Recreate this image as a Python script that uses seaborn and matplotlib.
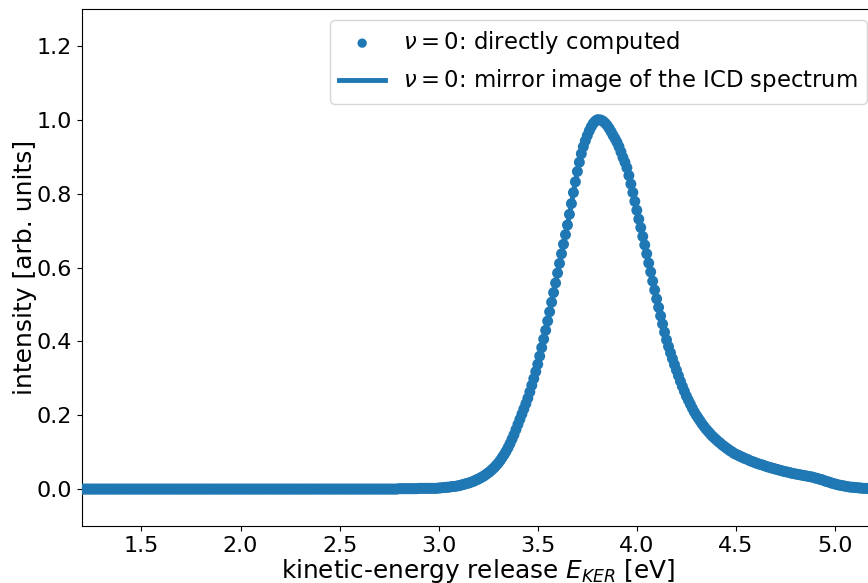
import numpy as np
import pandas as pd
import matplotlib
matplotlib.use("Agg")
import matplotlib.pyplot as plt
import seaborn as sns

# Kinetic-energy grid (eV), 0.01 eV spacing
energy = np.round(np.arange(1.20, 5.205, 0.01), 2)

# Intensity below the onset (1.20 - 2.99 eV)
intensity_low = [0.0] * 160 + [0.001] * 10 + [0.002] * 10

# Intensity across the peak (3.00 - 5.20 eV)
intensity_peak = [
    0.003, 0.003, 0.004, 0.004, 0.005, 0.005, 0.006, 0.007, 0.007, 0.008,
    0.009, 0.010, 0.012, 0.013, 0.015, 0.016, 0.018, 0.020, 0.022, 0.025,
    0.027, 0.030, 0.033, 0.036, 0.040, 0.044, 0.048, 0.053, 0.058, 0.064,
    0.070, 0.077, 0.085, 0.093, 0.102, 0.112, 0.123, 0.135, 0.147, 0.161,
    0.175, 0.189, 0.203, 0.217, 0.231, 0.246, 0.263, 0.281, 0.299, 0.318,
    0.338, 0.360, 0.383, 0.406, 0.430, 0.455, 0.480, 0.506, 0.532, 0.558,
    0.585, 0.611, 0.637, 0.663, 0.689, 0.715, 0.744, 0.773, 0.803, 0.832,
    0.860, 0.885, 0.908, 0.927, 0.943, 0.957, 0.970, 0.981, 0.990, 0.996,
    1.000, 1.000, 0.999, 0.996, 0.991, 0.985, 0.977, 0.968, 0.958, 0.949,
    0.939, 0.927, 0.913, 0.898, 0.885, 0.870, 0.849, 0.826, 0.803, 0.779,
    0.755, 0.731, 0.708, 0.684, 0.661, 0.637, 0.612, 0.588, 0.563, 0.539,
    0.515, 0.492, 0.469, 0.447, 0.425, 0.404, 0.386, 0.369, 0.353, 0.337,
    0.322, 0.307, 0.292, 0.278, 0.265, 0.252, 0.241, 0.230, 0.219, 0.209,
    0.200, 0.192, 0.184, 0.176, 0.169, 0.162, 0.156, 0.150, 0.144, 0.139,
    0.134, 0.129, 0.125, 0.120, 0.116, 0.112, 0.108, 0.104, 0.101, 0.097,
    0.094, 0.092, 0.089, 0.087, 0.084, 0.082, 0.080, 0.077, 0.075, 0.073,
    0.071, 0.069, 0.067, 0.066, 0.064, 0.062, 0.060, 0.059, 0.057, 0.056,
    0.054, 0.053, 0.051, 0.050, 0.048, 0.047, 0.046, 0.045, 0.043, 0.042,
    0.041, 0.040, 0.039, 0.038, 0.037, 0.036, 0.035, 0.034, 0.033, 0.032,
    0.030, 0.029, 0.027, 0.026, 0.024, 0.022, 0.020, 0.019, 0.017, 0.015,
    0.014, 0.012, 0.011, 0.010, 0.009, 0.008, 0.007, 0.006, 0.005, 0.005,
    0.004, 0.004, 0.003, 0.003, 0.002, 0.002, 0.002, 0.001, 0.001, 0.001,
    0.001,
]

intensity = np.array(intensity_low + intensity_peak)
assert len(intensity) == len(energy)

label_points = r"$\nu = 0$: directly computed"
label_line = r"$\nu = 0$: mirror image of the ICD spectrum"

df = pd.DataFrame({"energy": energy, "intensity": intensity})
color = "#1f77b4"

fig = plt.figure(figsize=(8.68, 5.83), dpi=100)
ax = fig.add_axes([82 / 868, 1 - 526 / 583, (874.6 - 82) / 868, (526 - 9) / 583])

sns.scatterplot(data=df, x="energy", y="intensity", ax=ax, color=color,
                s=62, linewidth=0, edgecolor="none", label=label_points, zorder=3)
sns.lineplot(data=df, x="energy", y="intensity", ax=ax, color=color,
             linewidth=3.5, estimator=None, sort=False, label=label_line, zorder=2)

ax.set_xlim(1.2, 5.2)
ax.set_ylim(-0.1, 1.3)
ax.set_xticks([1.5, 2.0, 2.5, 3.0, 3.5, 4.0, 4.5, 5.0])
ax.set_yticks([0.0, 0.2, 0.4, 0.6, 0.8, 1.0, 1.2])
ax.tick_params(labelsize=16)
ax.set_xlabel(r"kinetic-energy release $E_{KER}$ [eV]", fontsize=17.8, labelpad=1)
ax.set_ylabel("intensity [arb. units]", fontsize=18, labelpad=0)

leg = ax.legend(loc="upper right", bbox_to_anchor=(867 / 868, 1 - 20 / 583),
                bbox_transform=fig.transFigure, borderaxespad=0, fontsize=16.4,
                frameon=True, markerscale=0.85)

fig.savefig("out.png", dpi=100)
